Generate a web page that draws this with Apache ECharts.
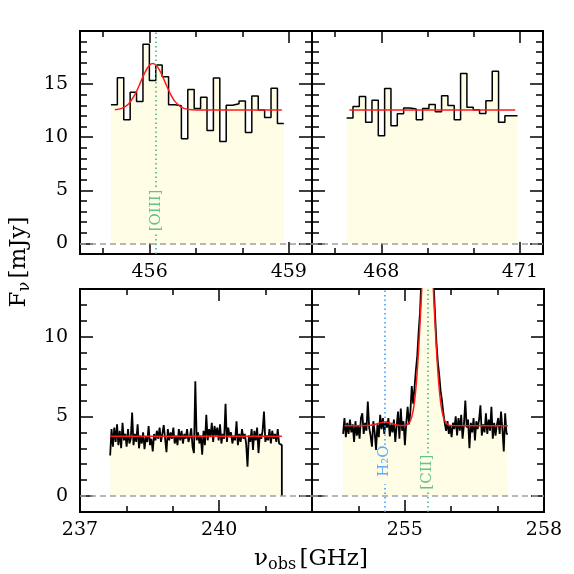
<!DOCTYPE html>
<html>
<head>
<meta charset="utf-8">
<script src="https://cdn.jsdelivr.net/npm/echarts@6/dist/echarts.min.js"></script>
<style>
html, body { margin: 0; padding: 0; background: #fff; }
#chart { width: 574px; height: 574px; }
</style>
</head>
<body>
<div id="chart"></div>
<script>
// [OIII] window (top left): channel grid in GHz, flux in mJy
const oiiiStart = 455.167;
const oiiiWidth = 0.138;
const oiiiFlux = [13.05, 15.6, 11.64, 14.24, 13.37, 18.75, 15.34, 16.8, 15.7, 13.05, 12.95, 9.86, 14.5, 12.7,
  13.77, 10.62, 15.57, 9.6, 13.0, 13.15, 13.4, 10.43, 13.87, 12.55, 11.86, 14.6, 11.28];
const oiiiFitFreq = [455.25, 455.4, 455.55, 455.7, 455.8, 455.9, 456.0, 456.07, 456.15, 456.25, 456.35, 456.45,
  456.55, 456.7, 456.85, 457.0, 458.85];
const oiiiFitFlux = [12.58, 12.71, 13.15, 14.15, 15.12, 16.1, 16.79, 16.95, 16.74, 16.01, 15.01, 14.06,
  13.35, 12.78, 12.6, 12.56, 12.55];
const oiiiLine = 456.13;

// continuum window (top right)
const contStart = 467.25;
const contWidth = 0.137;
const contFlux = [11.8, 12.9, 13.83, 11.4, 13.49, 10.14, 14.58, 11.08, 12.2, 12.74, 12.65, 11.64, 12.7, 13.08,
  12.39, 13.9, 12.99, 11.64, 15.99, 12.83, 12.58, 12.24, 13.43, 16.21, 11.4, 12.02, 12.02];
const contFitFreq = [467.31, 470.9];
const contFitFlux = [12.55, 12.55];

// lower sideband continuum (bottom left)
const lsbStart = 237.65;
const lsbWidth = 0.0296;
const lsbFlux = [2.55, 4.2, 3.1, 4.3, 3.4, 4.5, 3.2, 4.1, 3.0, 4.6, 3.5, 3.9, 3.1, 4.2, 3.3, 3.6, 5.25, 3.2, 3.9, 3.4,
  4.5, 3.0, 3.8, 3.3, 4.0, 2.95, 3.7, 3.4, 4.4, 3.2, 3.6, 2.8, 3.9, 3.5, 4.1, 3.6, 4.3, 3.4, 3.9, 4.45,
  3.6, 2.75, 4.2, 3.5, 4.0, 3.6, 4.3, 3.3, 3.8, 3.2, 4.2, 3.5, 4.1, 3.3, 3.9, 3.6, 4.2, 3.4, 3.7, 4.25,
  3.1, 2.7, 7.2, 3.5, 4.0, 3.3, 3.8, 2.6, 4.1, 3.2, 5.1, 3.5, 4.2, 3.7, 4.6, 3.4, 4.4, 3.8, 4.3, 3.5,
  4.5, 3.3, 3.9, 3.6, 5.8, 3.4, 4.3, 3.7, 4.0, 3.3, 3.8, 3.5, 4.7, 3.2, 3.9, 3.4, 4.2, 3.6, 3.9, 3.3,
  1.85, 3.8, 3.4, 4.2, 2.9, 4.1, 3.5, 4.3, 2.7, 3.9, 3.6, 4.1, 5.3, 3.4, 3.8, 3.5, 4.2, 3.3, 4.1, 3.6,
  3.9, 3.4, 4.2, 3.3, 3.2];
const lsbEndFlux = 0;
const lsbFitFreq = [237.65, 241.35];
const lsbFitFlux = [3.75, 3.75];

// [CII] window (bottom right)
const ciiStart = 253.67;
const ciiWidth = 0.0296;
const ciiFlux = [3.9, 4.9, 3.7, 4.6, 3.9, 4.8, 4.0, 4.5, 3.4, 4.7, 3.8, 4.4, 3.6, 4.9, 5.2, 3.9, 4.6, 4.1, 5.94, 4.3,
  3.8, 3.1, 4.7, 4.0, 2.9, 4.5, 3.7, 5.1, 4.2, 4.9, 3.9, 4.7, 4.3, 4.9, 3.75, 4.5, 4.0, 4.8, 3.4, 4.4,
  5.3, 3.6, 5.5, 4.1, 4.7, 3.2, 4.6, 5.6, 4.5, 5.3, 6.9, 5.8, 6.8, 7.9, 8.8, 10.3, 11.5, 13.6, 15.2, 16.8,
  17.1, 18.0, 17.2, 16.2, 15.8, 14.6, 13.2, 11.3, 9.6, 8.4, 7.6, 6.6, 6.0, 5.2, 4.6, 4.1, 4.7, 3.9, 4.4, 3.7,
  4.6, 4.2, 5.0, 3.8, 4.9, 4.1, 5.1, 3.6, 4.5, 6.0, 4.3, 4.8, 3.0, 4.6, 4.0, 4.9, 3.5, 4.7, 4.2, 4.8,
  5.7, 3.8, 4.5, 4.0, 5.2, 3.9, 4.8, 4.1, 5.6, 3.6, 4.6, 3.8, 4.5, 4.9, 3.9, 5.3, 4.2, 2.8, 5.2, 3.9];
const ciiFitFreq = [253.7, 254.2, 254.35, 254.45, 254.57, 254.7, 254.85, 255.0, 255.05, 255.1, 255.15, 255.2,
  255.25, 255.3, 255.35, 255.4, 255.45, 255.49, 255.53, 255.58, 255.63, 255.68, 255.73, 255.78, 255.83,
  255.88, 255.93, 256.0, 257.22];
const ciiFitFlux = [4.42, 4.43, 4.49, 4.58, 4.65, 4.57, 4.45, 4.43, 4.49, 4.62, 4.97, 5.73,
  7.14, 9.32, 12.1, 15.0, 17.05, 17.6, 17.05, 15.0, 12.1, 9.32, 7.14, 5.73, 4.97,
  4.62, 4.49, 4.43, 4.42];
const h2oLine = 254.56;
const ciiLine = 255.49;

// axes
const xRanges = [[454.5, 459.5], [466.5, 471.5], [237, 242], [253, 258]];
const xMajor = [[456, 459], [468, 471], [237, 240], [255, 258]];
const xMinor = [[455, 457, 458], [467, 469, 470], [238, 239, 241], [254, 256, 257]];
const yTopRange = [-1, 20];
const yTopMajor = [0, 5, 10, 15];
const yTopMinor = [1, 2, 3, 4, 6, 7, 8, 9, 11, 12, 13, 14, 16, 17, 18, 19];
const yBotRange = [-1, 13];
const yBotMajor = [0, 5, 10];
const yBotMinor = [1, 2, 3, 4, 6, 7, 8, 9, 11, 12];

const FONT = 'DejaVu Serif';
const FILL = '#fffde6';
const GREEN = '#3cb371';
const BLUE = '#3399ff';
const RED = '#ff1a1a';

const grids = [
  { left: 80, top: 31, width: 232, height: 223 },
  { left: 312, top: 31, width: 231, height: 223 },
  { left: 80, top: 289, width: 232, height: 223 },
  { left: 312, top: 289, width: 232, height: 223 },
].map(g => Object.assign(g, { show: true, borderColor: '#000', borderWidth: 2, backgroundColor: 'transparent' }));

const stepData = (start, width, flux, endFlux) => {
  const d = flux.map((v, i) => [start + i * width, v]);
  d.push([start + flux.length * width, endFlux === undefined ? flux[flux.length - 1] : endFlux]);
  return d;
};
const zip = (a, b) => a.map((v, i) => [v, b[i]]);

const tick = (values, len) => ({
  show: true, inside: true, length: len, customValues: values,
  lineStyle: { color: '#000', width: 1.5 },
});
const baseAxis = (gridIndex, range) => ({
  type: 'value', gridIndex, min: range[0], max: range[1],
  axisLine: { show: false, onZero: false }, splitLine: { show: false },
  axisLabel: { show: false },
});

const xAxes = [];
const yAxes = [];
grids.forEach((g, i) => {
  const yr = i < 2 ? yTopRange : yBotRange;
  const yMaj = i < 2 ? yTopMajor : yBotMajor;
  const yMin = i < 2 ? yTopMinor : yBotMinor;
  // bottom major (with labels), bottom minor, top major, top minor
  xAxes.push(Object.assign(baseAxis(i, xRanges[i]), {
    position: 'bottom', axisTick: tick(xMajor[i], 12),
    axisLabel: { show: true, customValues: xMajor[i], margin: 9, color: '#000', fontFamily: FONT, fontSize: 19 },
  }));
  xAxes.push(Object.assign(baseAxis(i, xRanges[i]), { position: 'bottom', axisTick: tick(xMinor[i], 6) }));
  xAxes.push(Object.assign(baseAxis(i, xRanges[i]), { position: 'top', axisTick: tick(xMajor[i], 12) }));
  xAxes.push(Object.assign(baseAxis(i, xRanges[i]), { position: 'top', axisTick: tick(xMinor[i], 6) }));
  yAxes.push(Object.assign(baseAxis(i, yr), {
    position: 'left', axisTick: tick(yMaj, 13),
    axisLabel: { show: i % 2 === 0, customValues: yMaj, margin: 12, color: '#000', fontFamily: FONT, fontSize: 19 },
  }));
  yAxes.push(Object.assign(baseAxis(i, yr), { position: 'left', axisTick: tick(yMin, 7) }));
  yAxes.push(Object.assign(baseAxis(i, yr), { position: 'right', axisTick: tick(yMaj, 13) }));
  yAxes.push(Object.assign(baseAxis(i, yr), { position: 'right', axisTick: tick(yMin, 7) }));
});

const zeroLine = {
  silent: true, symbol: ['none', 'none'], label: { show: false },
  lineStyle: { color: '#a0a0a0', type: [6, 4], width: 1.5 },
  data: [{ yAxis: 0 }],
};
const spectrum = (i, data, lw) => ({
  type: 'line', step: 'end', xAxisIndex: 4 * i, yAxisIndex: 4 * i, data,
  showSymbol: false, silent: true, z: 2,
  lineStyle: { color: '#000', width: lw },
  areaStyle: { color: FILL, opacity: 1 },
  markLine: zeroLine,
});
const fit = (i, data, smooth) => ({
  type: 'line', xAxisIndex: 4 * i, yAxisIndex: 4 * i, data, smooth,
  showSymbol: false, silent: true, z: 4,
  lineStyle: { color: RED, width: 1.5 },
});
const lineMark = (i, x, y, text, color, gaps, ymax) => ({
  type: 'scatter', xAxisIndex: 4 * i, yAxisIndex: 4 * i, silent: true, z: 5,
  symbolSize: 1, itemStyle: { color: 'rgba(0,0,0,0)' },
  data: [[x, y]],
  label: { show: true, formatter: text, rotate: 90, position: 'inside', color, fontFamily: FONT, fontSize: 15 },
  markLine: {
    silent: true, symbol: ['none', 'none'], label: { show: false },
    lineStyle: { color, type: [1.5, 3], width: 1.5 },
    data: [
      [{ coord: [x, -1] }, { coord: [x, gaps[0]] }],
      [{ coord: [x, gaps[1]] }, { coord: [x, ymax] }],
    ],
  },
});

const titleRich = {
  a: { fontFamily: FONT, fontSize: 23, lineHeight: 27, fill: '#000' },
  b: { fontFamily: FONT, fontSize: 16, lineHeight: 16, verticalAlign: 'bottom', fill: '#000' },
};

const option = {
  animation: false,
  backgroundColor: '#fff',
  grid: grids,
  xAxis: xAxes,
  yAxis: yAxes,
  series: [
    spectrum(0, stepData(oiiiStart, oiiiWidth, oiiiFlux), 1.5),
    fit(0, zip(oiiiFitFreq, oiiiFitFlux), 0.3),
    lineMark(0, oiiiLine, 3.1, '[OIII]', GREEN, [0.9, 5.3], 20),
    spectrum(1, stepData(contStart, contWidth, contFlux), 1.5),
    fit(1, zip(contFitFreq, contFitFlux), false),
    spectrum(2, stepData(lsbStart, lsbWidth, lsbFlux, lsbEndFlux), 1.8),
    fit(2, zip(lsbFitFreq, lsbFitFlux), false),
    spectrum(3, stepData(ciiStart, ciiWidth, ciiFlux), 1.8),
    fit(3, zip(ciiFitFreq, ciiFitFlux), 0.3),
    lineMark(3, h2oLine, 2.2, 'H₂O', BLUE, [0.75, 3.2], 13),
    lineMark(3, ciiLine, 1.5, '[CII]', GREEN, [0.3, 2.7], 13),
  ],
  graphic: [
    {
      type: 'text', x: 19, y: 262, rotation: Math.PI / 2,
      style: { text: '{a|F}{b|ν} {a|[mJy]}', align: 'center', verticalAlign: 'middle', fill: '#000', rich: titleRich },
    },
    {
      type: 'text', x: 311, y: 559,
      style: { text: '{a|ν}{b|obs} {a|[GHz]}', align: 'center', verticalAlign: 'middle', fill: '#000', rich: titleRich },
    },
  ],
};

const chart = echarts.init(document.getElementById('chart'));
chart.setOption(option);
</script>
</body>
</html>
